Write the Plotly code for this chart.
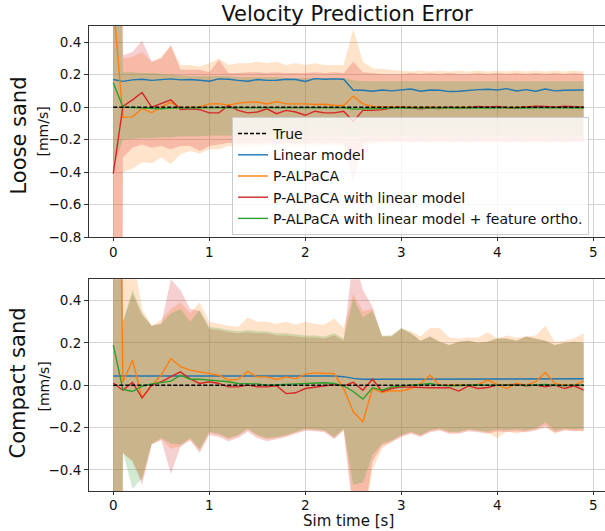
import plotly.graph_objects as go

# ---------------- data ----------------
t = [round(0.1 * i, 1) for i in range(50)]
true_t = [0.0, 4.9]
true_v = [0.0, 0.0]

# Loose sand (top panel)
top_linear = [0.170, 0.159, 0.168, 0.172, 0.165, 0.170, 0.174, 0.168, 0.170, 0.166,
              0.160, 0.174, 0.172, 0.165, 0.160, 0.170, 0.165, 0.166, 0.172, 0.170,
              0.158, 0.176, 0.172, 0.174, 0.172, 0.104, 0.104, 0.098, 0.106, 0.100,
              0.104, 0.112, 0.098, 0.106, 0.104, 0.096, 0.098, 0.104, 0.108, 0.110,
              0.106, 0.114, 0.100, 0.108, 0.098, 0.112, 0.100, 0.104, 0.106, 0.106]
top_palpaca = [0.65, -0.062, -0.060, -0.008, -0.035, 0.002, 0.030, -0.004, 0.000, 0.002,
               0.020, 0.022, 0.012, 0.025, 0.030, 0.032, 0.020, 0.035, 0.020, 0.022,
               0.020, 0.016, 0.018, 0.012, 0.010, 0.068, 0.020, 0.004, 0.002, 0.000,
               0.000, -0.004, -0.002, 0.002, 0.000, -0.004, 0.000, 0.002, 0.000, 0.000,
               0.002, -0.002, 0.000, 0.002, 0.004, 0.000, 0.002, 0.000, 0.002, 0.000]
top_lin_pal = [-0.41, 0.005, 0.045, 0.090, 0.000, 0.025, 0.045, -0.015, -0.010, -0.015,
               -0.035, -0.035, 0.010, -0.020, -0.035, -0.030, -0.010, -0.040, -0.020, -0.030,
               -0.050, -0.025, -0.035, -0.035, -0.025, -0.088, -0.020, -0.020, -0.015, -0.005,
               0.000, -0.005, -0.010, -0.005, -0.008, 0.000, -0.005, -0.004, 0.004, 0.000,
               0.004, -0.004, -0.005, 0.002, 0.006, 0.004, 0.000, 0.006, 0.002, 0.000]
top_ortho = [0.150, 0.000, -0.002, -0.004, -0.010, -0.010, -0.006, -0.008, -0.006, -0.004,
             -0.004, -0.004, -0.003, -0.003, -0.004, -0.002, -0.004, -0.003, -0.002, -0.003,
             -0.003, -0.004, -0.002, -0.003, -0.004, -0.012, -0.010, -0.008, -0.006, -0.005,
             -0.004, -0.006, -0.005, -0.006, -0.005, -0.006, -0.004, -0.005, -0.006, -0.005,
             -0.005, -0.004, -0.006, -0.005, -0.004, -0.005, -0.006, -0.004, -0.005, -0.005]

top_palpaca_hi = [20.0, 0.30, 0.31, 0.34, 0.28, 0.31, 0.38, 0.26, 0.26, 0.25,
                  0.27, 0.30, 0.26, 0.27, 0.27, 0.28, 0.27, 0.28, 0.26, 0.27,
                  0.26, 0.27, 0.26, 0.26, 0.26, 0.48, 0.28, 0.24, 0.235, 0.23,
                  0.225, 0.22, 0.225, 0.22, 0.225, 0.22, 0.225, 0.22, 0.225, 0.22,
                  0.225, 0.22, 0.225, 0.22, 0.225, 0.22, 0.225, 0.22, 0.225, 0.22]
top_palpaca_lo = [-20.0, -0.40, -0.38, -0.34, -0.345, -0.31, -0.35, -0.29, -0.27, -0.285,
                  -0.26, -0.26, -0.24, -0.245, -0.24, -0.24, -0.235, -0.24, -0.235, -0.24,
                  -0.235, -0.24, -0.235, -0.235, -0.24, -0.30, -0.24, -0.225, -0.22, -0.22,
                  -0.215, -0.22, -0.215, -0.22, -0.215, -0.22, -0.215, -0.22, -0.215, -0.22,
                  -0.215, -0.22, -0.215, -0.22, -0.215, -0.22, -0.215, -0.22, -0.215, -0.22]
top_lin_pal_hi = [20.0, 0.32, 0.34, 0.41, 0.28, 0.30, 0.38, 0.23, 0.23, 0.23,
                  0.215, 0.29, 0.21, 0.21, 0.215, 0.215, 0.21, 0.215, 0.21, 0.21,
                  0.21, 0.215, 0.21, 0.215, 0.21, 0.28, 0.215, 0.21, 0.205, 0.205,
                  0.205, 0.21, 0.205, 0.21, 0.205, 0.21, 0.205, 0.205, 0.21, 0.205,
                  0.21, 0.205, 0.21, 0.205, 0.21, 0.205, 0.21, 0.205, 0.21, 0.205]
top_lin_pal_lo = [-20.0, -0.31, -0.25, -0.23, -0.25, -0.24, -0.26, -0.24, -0.24, -0.27,
                  -0.24, -0.23, -0.22, -0.225, -0.22, -0.225, -0.22, -0.225, -0.22, -0.225,
                  -0.225, -0.22, -0.225, -0.22, -0.225, -0.46, -0.22, -0.215, -0.21, -0.21,
                  -0.21, -0.215, -0.21, -0.215, -0.21, -0.215, -0.21, -0.215, -0.21, -0.215,
                  -0.21, -0.215, -0.21, -0.215, -0.21, -0.215, -0.21, -0.215, -0.21, -0.215]
top_ortho_hi = [3.0, 0.215, 0.215, 0.21, 0.21, 0.205, 0.20, 0.195, 0.19, 0.19,
                0.19, 0.19, 0.19, 0.185, 0.185, 0.185, 0.185, 0.185, 0.18, 0.18,
                0.18, 0.18, 0.18, 0.18, 0.18, 0.165, 0.16, 0.16, 0.16, 0.16,
                0.16, 0.16, 0.16, 0.16, 0.16, 0.16, 0.16, 0.16, 0.16, 0.16,
                0.16, 0.16, 0.16, 0.16, 0.16, 0.16, 0.16, 0.16, 0.16, 0.16]
top_ortho_lo = [-0.38, -0.20, -0.195, -0.19, -0.19, -0.185, -0.185, -0.18, -0.18, -0.18,
                -0.175, -0.175, -0.175, -0.175, -0.175, -0.175, -0.175, -0.175, -0.175, -0.175,
                -0.175, -0.175, -0.175, -0.175, -0.175, -0.18, -0.175, -0.175, -0.175, -0.175,
                -0.175, -0.175, -0.175, -0.175, -0.175, -0.175, -0.175, -0.175, -0.175, -0.175,
                -0.175, -0.175, -0.175, -0.175, -0.175, -0.175, -0.175, -0.175, -0.175, -0.175]

# Compact sand (bottom panel)
bot_linear = [0.043, 0.043, 0.044, 0.044, 0.044, 0.044, 0.044, 0.044, 0.044, 0.044,
              0.044, 0.044, 0.044, 0.044, 0.044, 0.044, 0.044, 0.043, 0.043, 0.043,
              0.043, 0.043, 0.043, 0.043, 0.040, 0.032, 0.028, 0.028, 0.028, 0.027,
              0.027, 0.028, 0.028, 0.028, 0.028, 0.028, 0.028, 0.028, 0.028, 0.029,
              0.029, 0.028, 0.028, 0.028, 0.029, 0.030, 0.030, 0.028, 0.028, 0.030]
bot_palpaca = [3.5, 0.015, 0.118, -0.062, 0.000, 0.047, 0.126, 0.087, 0.071, 0.063,
               0.052, 0.047, 0.024, 0.027, 0.065, 0.039, 0.039, 0.027, 0.039, 0.031,
               0.052, 0.058, 0.055, 0.055, -0.016, -0.126, -0.173, -0.016, -0.035, -0.026,
               -0.028, -0.016, 0.008, 0.047, 0.000, 0.000, 0.000, 0.000, 0.003, 0.024,
               0.003, -0.016, 0.008, 0.000, 0.016, 0.060, 0.008, 0.000, 0.000, 0.019]
bot_lin_pal = [0.010, -0.024, 0.013, -0.060, 0.000, 0.016, 0.040, 0.063, 0.030, 0.008,
               0.016, 0.008, -0.008, -0.008, 0.000, -0.008, -0.008, -0.003, -0.040, -0.036,
               -0.016, -0.010, -0.006, 0.003, -0.003, 0.013, -0.024, 0.028, -0.030, -0.016,
               -0.008, -0.010, -0.010, -0.012, -0.012, -0.012, -0.028, -0.003, -0.016, -0.011,
               0.000, 0.000, 0.003, -0.003, 0.000, -0.008, 0.000, -0.016, -0.003, -0.024]
bot_ortho = [0.189, -0.020, -0.030, -0.005, 0.006, 0.013, 0.019, 0.047, 0.028, 0.028,
             0.024, 0.020, 0.016, 0.008, 0.006, 0.006, 0.000, 0.002, 0.004, 0.006,
             0.008, 0.011, 0.011, 0.008, -0.003, -0.030, -0.066, -0.012, -0.024, -0.008,
             -0.003, 0.000, 0.003, 0.008, 0.000, -0.003, -0.002, 0.000, 0.002, 0.000,
             0.000, 0.002, 0.000, -0.002, 0.000, 0.003, 0.000, -0.003, 0.000, 0.000]

bot_palpaca_hi = [20.0, 0.62, 0.62, 0.36, 0.28, 0.31, 0.36, 0.39, 0.34, 0.39,
                  0.30, 0.29, 0.28, 0.276, 0.32, 0.30, 0.30, 0.29, 0.30, 0.285,
                  0.30, 0.29, 0.285, 0.315, 0.27, 0.43, 0.35, 0.36, 0.23, 0.235,
                  0.27, 0.255, 0.23, 0.27, 0.27, 0.225, 0.22, 0.225, 0.225, 0.25,
                  0.22, 0.235, 0.225, 0.23, 0.235, 0.28, 0.205, 0.21, 0.22, 0.245]
bot_palpaca_lo = [-20.0, -0.32, -0.36, -0.45, -0.28, -0.255, -0.30, -0.29, -0.255, -0.31,
                  -0.225, -0.235, -0.255, -0.24, -0.21, -0.24, -0.255, -0.25, -0.24, -0.225,
                  -0.21, -0.212, -0.217, -0.25, -0.21, -0.56, -0.68, -0.40, -0.30, -0.265,
                  -0.24, -0.225, -0.24, -0.218, -0.21, -0.225, -0.225, -0.212, -0.218, -0.225,
                  -0.25, -0.218, -0.23, -0.218, -0.21, -0.19, -0.23, -0.21, -0.214, -0.22]
bot_lin_pal_hi = [20.0, 0.30, 0.43, 0.33, 0.28, 0.29, 0.50, 0.45, 0.36, 0.35,
                  0.265, 0.26, 0.25, 0.245, 0.25, 0.245, 0.245, 0.235, 0.235, 0.23,
                  0.225, 0.225, 0.22, 0.235, 0.21, 0.62, 0.45, 0.37, 0.23, 0.23,
                  0.265, 0.245, 0.21, 0.23, 0.205, 0.19, 0.205, 0.21, 0.20, 0.205,
                  0.22, 0.22, 0.21, 0.23, 0.22, 0.21, 0.19, 0.20, 0.205, 0.20]
bot_lin_pal_lo = [-20.0, -0.32, -0.36, -0.47, -0.28, -0.26, -0.42, -0.29, -0.26, -0.32,
                  -0.235, -0.245, -0.265, -0.25, -0.22, -0.25, -0.265, -0.255, -0.245, -0.23,
                  -0.215, -0.218, -0.223, -0.255, -0.215, -0.62, -0.65, -0.36, -0.285, -0.27,
                  -0.245, -0.23, -0.245, -0.222, -0.214, -0.23, -0.23, -0.218, -0.222, -0.23,
                  -0.218, -0.222, -0.218, -0.222, -0.214, -0.20, -0.222, -0.214, -0.218, -0.214]
bot_ortho_hi = [20.0, 0.30, 0.45, 0.34, 0.28, 0.29, 0.34, 0.36, 0.30, 0.355,
                0.275, 0.27, 0.26, 0.255, 0.26, 0.255, 0.255, 0.245, 0.245, 0.24,
                0.235, 0.235, 0.23, 0.245, 0.22, 0.41, 0.32, 0.35, 0.235, 0.235,
                0.27, 0.245, 0.21, 0.23, 0.205, 0.19, 0.205, 0.21, 0.20, 0.205,
                0.22, 0.22, 0.21, 0.23, 0.22, 0.21, 0.19, 0.20, 0.205, 0.20]
bot_ortho_lo = [-20.0, -0.315, -0.49, -0.44, -0.276, -0.25, -0.276, -0.28, -0.25, -0.30,
                -0.22, -0.23, -0.25, -0.236, -0.205, -0.236, -0.25, -0.245, -0.236, -0.22,
                -0.205, -0.208, -0.213, -0.245, -0.205, -0.47, -0.46, -0.33, -0.276, -0.26,
                -0.236, -0.22, -0.236, -0.213, -0.205, -0.22, -0.22, -0.208, -0.213, -0.22,
                -0.208, -0.213, -0.208, -0.213, -0.205, -0.175, -0.213, -0.205, -0.208, -0.205]

names = ["True", "Linear model", "P-ALPaCA", "P-ALPaCA with linear model",
         "P-ALPaCA with linear model + feature ortho."]
x_ticks = [0, 1, 2, 3, 4, 5]

# ---------------- style ----------------
FONT = "DejaVu Sans"
C_BLUE, C_ORANGE, C_RED, C_GREEN = "#1f77b4", "#ff7f0e", "#d62728", "#2ca02c"
BAND = {"orange": "rgba(255,127,14,0.22)", "red": "rgba(214,39,40,0.22)",
        "green": "rgba(44,160,44,0.22)"}

fig = go.Figure()

panels = [
    ("x", "y", top_linear, top_palpaca, top_lin_pal, top_ortho,
     [(top_palpaca_hi, top_palpaca_lo, "orange"), (top_lin_pal_hi, top_lin_pal_lo, "red"),
      (top_ortho_hi, top_ortho_lo, "green")], True),
    ("x2", "y2", bot_linear, bot_palpaca, bot_lin_pal, bot_ortho,
     [(bot_palpaca_hi, bot_palpaca_lo, "orange"), (bot_lin_pal_hi, bot_lin_pal_lo, "red"),
      (bot_ortho_hi, bot_ortho_lo, "green")], False),
]

for xa, ya, lin, pal, lp, orth, bands, show in panels:
    for hi, lo, c in bands:
        fig.add_trace(go.Scatter(x=t + t[::-1], y=hi + lo[::-1], fill="toself",
                                 fillcolor=BAND[c], line=dict(width=0), mode="lines",
                                 showlegend=False, hoverinfo="skip", xaxis=xa, yaxis=ya))
    for vals, col, nm, rank in [(lin, C_BLUE, names[1], 2), (pal, C_ORANGE, names[2], 3),
                                (lp, C_RED, names[3], 4), (orth, C_GREEN, names[4], 5)]:
        fig.add_trace(go.Scatter(x=t, y=vals, mode="lines", name=nm,
                                 line=dict(color=col, width=1.4), showlegend=show,
                                 legendrank=rank, xaxis=xa, yaxis=ya))
    fig.add_trace(go.Scatter(x=true_t, y=true_v, mode="lines", name=names[0],
                             line=dict(color="black", width=1.5, dash="4px,2px"),
                             showlegend=show, legendrank=1, xaxis=xa, yaxis=ya))

L, R, T, B = 89, 0, 26, 40
H = 531 - T - B
top_dom = [(531 - B - 237) / H, 1.0]
bot_dom = [0.0, (531 - B - 279.3) / H]

axis_common = dict(showgrid=True, gridcolor="#d3d3d3", gridwidth=1, zeroline=False,
                   showline=True, linecolor="#333333", linewidth=1,
                   ticks="outside", tickcolor="#333333",
                   tickfont=dict(family=FONT, size=13.5, color="#111111"))

xr = [-0.253, 5.122]
fig.update_layout(
    width=605, height=531,
    margin=dict(l=L, r=R, t=T, b=B, autoexpand=False),
    paper_bgcolor="white", plot_bgcolor="white",
    font=dict(family=FONT, color="#111111"),
    xaxis=dict(domain=[0, 1], anchor="y", range=xr, tickvals=x_ticks, mirror=True,
               ticklen=3, **axis_common),
    yaxis=dict(domain=top_dom, anchor="x", range=[-0.8, 0.5], dtick=0.2, tick0=0,
               tickformat=".1f", ticklen=4, **axis_common),
    xaxis2=dict(domain=[0, 1], anchor="y2", range=xr, tickvals=x_ticks, mirror=True,
                ticklen=3, ticklabelstandoff=-1, **axis_common),
    yaxis2=dict(domain=bot_dom, anchor="x2", range=[-0.5, 0.5], dtick=0.2, tick0=0,
                tickformat=".1f", ticklen=4, **axis_common),
    title=dict(text="Velocity Prediction Error", font=dict(family=FONT, size=21, color="#111111"),
               x=0.5, xref="paper", xanchor="center", y=1 - 14 / 531, yref="container",
               yanchor="middle"),
    legend=dict(x=(232 - L) / (605 - L - R), y=(531 - B - 117) / H, xanchor="left", yanchor="top",
                bgcolor="rgba(255,255,255,0.8)", bordercolor="#cccccc", borderwidth=1,
                font=dict(family=FONT, size=14, color="#111111"), traceorder="normal"),
    showlegend=True,
)

def px_x(p):
    return (p - L) / (605 - L - R)

def px_y(p):
    return (531 - B - p) / H

annots = [
    dict(text="Loose sand", x=px_x(18.5), y=px_y(136), size=21),
    dict(text="[mm/s]", x=px_x(42.5), y=px_y(132), size=14),
    dict(text="Compact sand", x=px_x(17.5), y=px_y(383), size=21),
    dict(text="[mm/s]", x=px_x(43), y=px_y(386.5), size=14),
]
for a in annots:
    fig.add_annotation(text=a["text"], x=a["x"], y=a["y"], xref="paper", yref="paper",
                       textangle=-90, showarrow=False, xanchor="center", yanchor="middle",
                       font=dict(family=FONT, size=a["size"], color="#111111"))
fig.add_annotation(text="Sim time [s]", x=px_x(348), y=px_y(521), xref="paper", yref="paper",
                   showarrow=False, xanchor="center", yanchor="middle",
                   font=dict(family=FONT, size=15, color="#111111"))

fig.write_html("out.html", config={"displayModeBar": False},
               post_script="document.body.style.margin='0';document.body.style.overflow='hidden';")
